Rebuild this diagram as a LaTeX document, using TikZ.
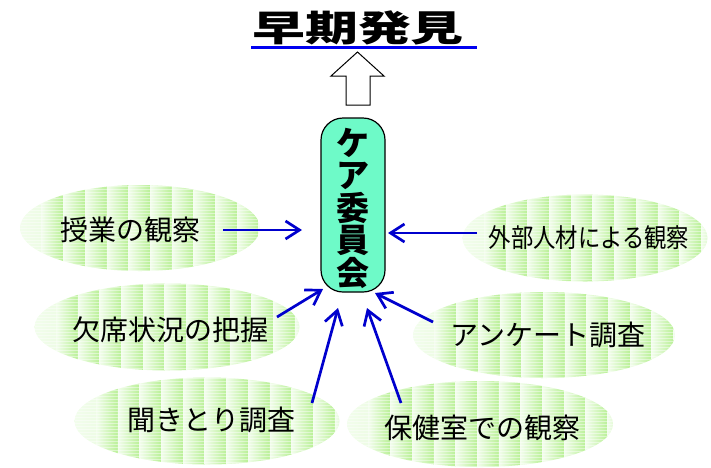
\documentclass[tikz,border=0pt]{standalone}
\usepackage{fontspec}
\setmainfont{Noto Sans CJK JP}
\usetikzlibrary{shapes.geometric,arrows.meta}
\definecolor{bubblegreen}{RGB}{185,240,150}
\definecolor{bubblelight}{RGB}{242,253,236}
\definecolor{aqua}{RGB}{110,250,200}
\definecolor{arrowblue}{RGB}{0,0,205}
\definecolor{ulblue}{RGB}{0,0,240}
\begin{document}
\begin{tikzpicture}[x=1pt,y=-1pt,
  bubble/.style={ellipse, inner sep=0pt,
    path picture={
      \foreach \k in {0,...,14} {
        \shade[left color=bubblelight, right color=bubblegreen]
          ([xshift=\k*21.7pt]path picture bounding box.north west)
          rectangle ++(21.7pt,-100pt);
      }
      \foreach \j in {0,...,30} {
        \draw[white, line width=0.6pt, opacity=0.45]
          ([yshift=-\j*3pt-1pt]path picture bounding box.north west)
          -- ++(300pt,0pt);
      }
    }},
  btext/.style={font=\fontsize{28}{30}\selectfont, inner sep=0pt},
  conn/.style={draw=arrowblue, line width=2.7pt,
    -{Straight Barb[length=14pt,width=18pt]}}
]
\useasboundingbox (0,0) rectangle (711,467);

% title
\node[inner sep=0pt] (title) at (358,28)
  {\scalebox{1.47}[1]{\bfseries\fontsize{36}{38}\selectfont 早期発見}};
\coordinate (ulL) at (251,47);
\coordinate (ulR) at (477,47);
\draw[ulblue, line width=3pt] (ulL) -- (ulR);

% hollow up arrow
\draw[line width=1pt, fill=white, line join=miter]
  (346,105) -- (346,76) -- (331,76) -- (357.5,52) -- (384,76) -- (370,76) -- (370,105) -- cycle;

% committee capsule
\node[draw, fill=aqua, line width=1.2pt, rounded corners=22pt,
      minimum width=64pt, minimum height=174pt, inner sep=0pt] (care) at (353,205) {};
\node[inner sep=0pt, align=center, font=\bfseries\fontsize{33}{32.5}\selectfont]
  (caretext) at (353,208) {ケ\\ア\\委\\員\\会};

% bubbles
\node[bubble, minimum width=240pt, minimum height=86pt] (e1) at (140,228) {};
\node[bubble, minimum width=245pt, minimum height=87pt] (e2) at (585,238) {};
\node[bubble, minimum width=265pt, minimum height=87pt] (e3) at (167,327) {};
\node[bubble, minimum width=262pt, minimum height=86pt] (e4) at (544,335) {};
\node[bubble, minimum width=265pt, minimum height=87pt] (e5) at (207,421) {};
\node[bubble, minimum width=266pt, minimum height=86pt] (e6) at (480,424) {};

\node[btext] (t1) at (130,230) {授業の観察};
\node[btext, font=\fontsize{26}{28}\selectfont] (t2) at (589,238)
  {\scalebox{0.86}[1]{外部人材による観察}};
\node[btext] (t3) at (170,330) {欠席状況の把握};
\node[btext] (t4) at (548,335) {アンケート調査};
\node[btext] (t5) at (211,420) {聞きとり調査};
\node[btext] (t6) at (482,428) {保健室での観察};

% connectors
\coordinate (s1) at (223,230); \coordinate (p1) at (302,230);
\coordinate (s2) at (477,233); \coordinate (p2) at (388,233);
\coordinate (s3) at (277,317); \coordinate (p3) at (323,289);
\coordinate (s4) at (433,322); \coordinate (p4) at (375,293);
\coordinate (s5) at (312,403); \coordinate (p5) at (338,308);
\coordinate (s6) at (401,403); \coordinate (p6) at (367,308);
\foreach \i in {1,...,6} { \draw[conn] (s\i) -- (p\i); }
\end{tikzpicture}
\end{document}
